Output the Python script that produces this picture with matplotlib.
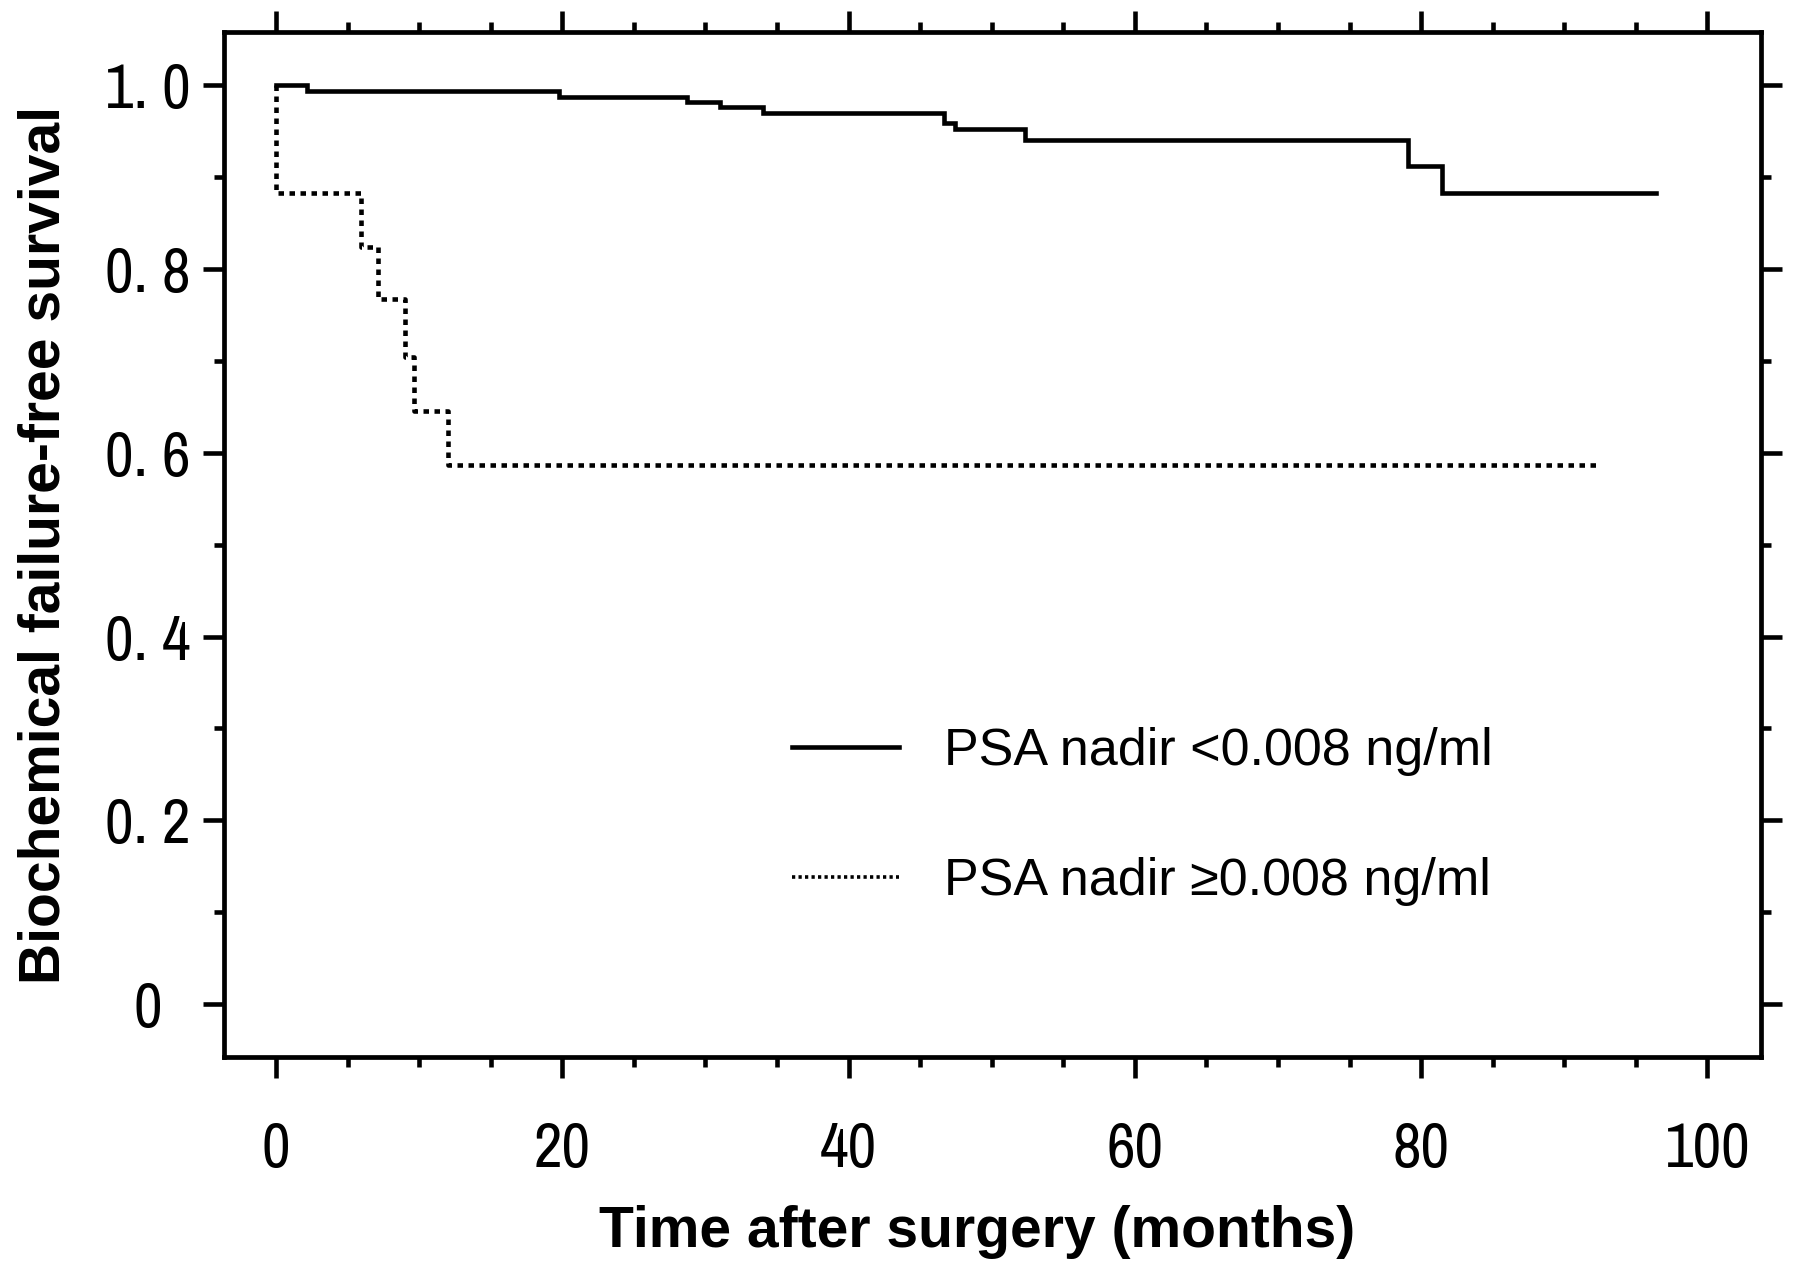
import matplotlib
matplotlib.use('Agg')
import matplotlib.pyplot as plt
from matplotlib.ticker import MultipleLocator
from matplotlib.lines import Line2D

# Kaplan-Meier steps
low_time = [0, 2.2, 19.8, 28.7, 31.0, 34.0, 46.7, 47.45, 52.3, 79.1, 81.45, 96.4]
low_surv = [1.0, 0.994, 0.987, 0.982, 0.976, 0.970, 0.959, 0.953, 0.941, 0.912, 0.883, 0.883]

high_time = [0, 0, 5.94, 7.1, 9.0, 9.65, 12.0, 92.6]
high_surv = [1.0, 0.883, 0.824, 0.767, 0.704, 0.645, 0.5865, 0.5865]

labels = ['PSA nadir <0.008 ng/ml', 'PSA nadir \u22650.008 ng/ml']
xticks = [0, 20, 40, 60, 80, 100]
yticks = [0, 0.2, 0.4, 0.6, 0.8, 1.0]
yticklabels = ['0', '0. 2', '0. 4', '0. 6', '0. 8', '1. 0']

narrow = ['Archivo Narrow', 'Liberation Sans', 'DejaVu Sans']
arial = ['Liberation Sans', 'DejaVu Sans']

lw = 3.3
dots = (0, (1.2, 1.2))

fig = plt.figure(figsize=(17.95, 12.72), dpi=100)
ax = fig.add_axes([0.1248, 0.1690, 0.8563, 0.8058])

ax.step(low_time, low_surv, where='post', color='black', lw=lw, solid_joinstyle='miter')
ax.step(high_time, high_surv, where='post', color='black', lw=lw, linestyle=dots)

ax.set_xlim(-3.63, 103.75)
ax.set_ylim(-0.0577, 1.058)

for s in ax.spines.values():
    s.set_linewidth(3.4)

ax.xaxis.set_minor_locator(MultipleLocator(5))
ax.yaxis.set_minor_locator(MultipleLocator(0.1))
ax.tick_params(which='both', direction='out', width=3.3, top=True, right=True,
               color='black')
ax.tick_params(which='major', length=15)
ax.tick_params(which='minor', length=7.5)
ax.tick_params(axis='x', which='major', pad=31)
ax.tick_params(axis='y', which='major', pad=40)

ax.set_xticks(xticks)
ax.set_xticklabels([str(t) for t in xticks], family=narrow, fontsize=45)
ax.set_yticks(yticks)
ax.set_yticklabels(yticklabels, family=narrow, fontsize=45)
for t in ax.get_yticklabels():
    t.set_horizontalalignment('center')

ax.set_xlabel('Time after surgery (months)', family=arial, fontweight='bold',
              fontsize=41)
ax.set_ylabel('Biochemical failure-free survival', family=arial, fontweight='bold',
              fontsize=41)
ax.yaxis.set_label_coords(-0.099, 0.5)
ax.xaxis.set_label_coords(0.49, -0.144)

handles = [Line2D([], [], color='black', lw=lw),
           Line2D([], [], color='black', lw=2.6, linestyle=(0, (0.9, 0.9)))]
leg = ax.legend(handles, labels, loc='upper left', bbox_to_anchor=(0.3696, 0.322),
                frameon=False, handlelength=2.05, handletextpad=0.86,
                labelspacing=1.56, borderpad=0, borderaxespad=0,
                prop={'family': arial, 'size': 37.5})

fig.savefig('out.png', dpi=100)
